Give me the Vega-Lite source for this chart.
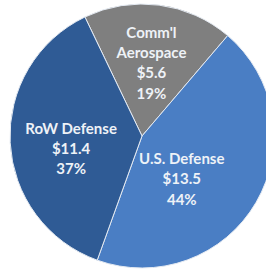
{
  "$schema": "https://vega.github.io/schema/vega-lite/v6.json",
  "width": 248,
  "height": 266,
  "autosize": "none",
  "padding": {"left": 18, "top": 3, "right": 0, "bottom": 0},
  "background": "white",
  "data": {
    "values": [
      {"segment": "Comm'l Aerospace", "order": 1, "value": 5.6, "label": "Comm'l\nAerospace\n$5.6\n19%"},
      {"segment": "U.S. Defense", "order": 2, "value": 13.5, "label": "U.S. Defense\n$13.5\n44%"},
      {"segment": "RoW Defense", "order": 3, "value": 11.4, "label": "RoW Defense\n$11.4\n37%"}
    ]
  },
  "encoding": {
    "theta": {"field": "value", "type": "quantitative", "stack": true, "scale": {"range": [-0.447, 5.836]}},
    "order": {"field": "order", "type": "quantitative"}
  },
  "layer": [
    {
      "mark": {"type": "arc", "outerRadius": 132, "stroke": "#e4eaf2", "strokeWidth": 1},
      "encoding": {
        "color": {
          "field": "segment",
          "type": "nominal",
          "scale": {"domain": ["Comm'l Aerospace", "U.S. Defense", "RoW Defense"], "range": ["#7f7f7f", "#4a7ec4", "#2f5b95"]},
          "legend": null
        }
      }
    },
    {
      "mark": {"type": "text", "radius": 104, "dx": -4, "lineBreak": "\n", "lineHeight": 20.3, "font": "Lato", "fontWeight": "bold", "fontSize": 15, "fill": "#eef2f7", "align": "center", "baseline": "middle"},
      "encoding": {"text": {"condition": {"test": "datum.order == 1", "field": "label"}, "value": ""}}
    },
    {
      "mark": {"type": "text", "radius": 46, "lineBreak": "\n", "lineHeight": 20.3, "font": "Lato", "fontWeight": "bold", "fontSize": 15, "fill": "#eef2f7", "align": "center", "baseline": "middle"},
      "encoding": {"text": {"condition": {"test": "datum.order == 2", "field": "label"}, "value": ""}}
    },
    {
      "mark": {"type": "text", "radius": 71, "dy": -11, "lineBreak": "\n", "lineHeight": 20.3, "font": "Lato", "fontWeight": "bold", "fontSize": 15, "fill": "#eef2f7", "align": "center", "baseline": "middle"},
      "encoding": {"text": {"condition": {"test": "datum.order == 3", "field": "label"}, "value": ""}}
    }
  ]
}
